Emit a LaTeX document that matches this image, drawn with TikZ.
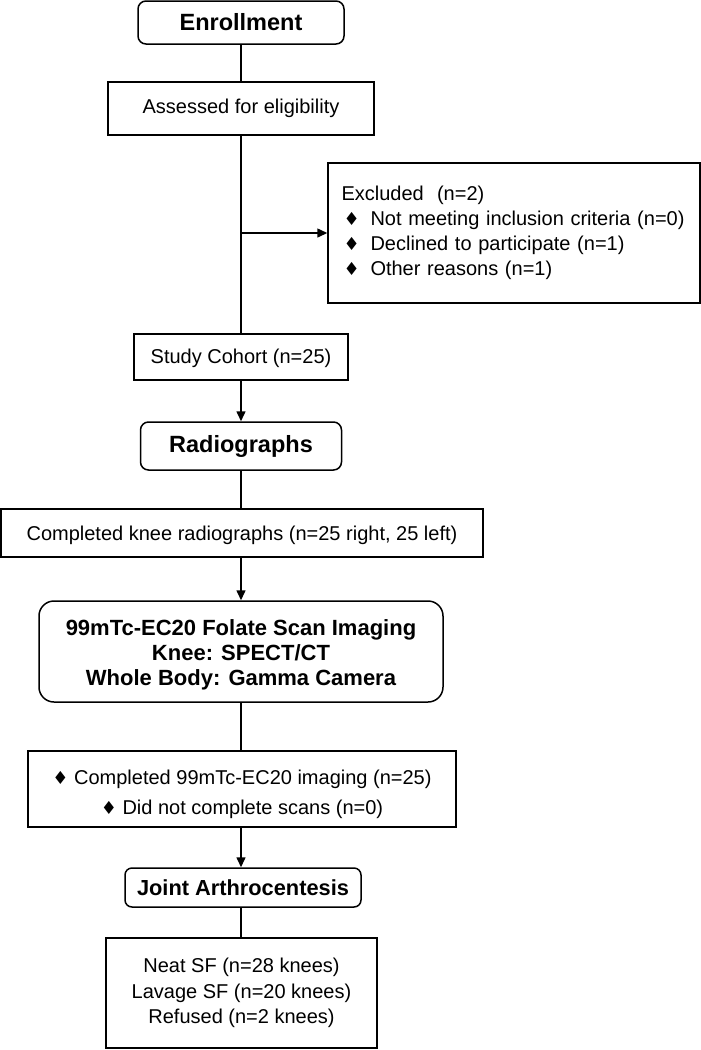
\documentclass[tikz,border=0pt]{standalone}
\usepackage{fontspec}
\setmainfont{Liberation Sans}
\newfontfamily\dejavu{DejaVu Sans}
\usetikzlibrary{arrows.meta}
\newcommand{\dia}{{\dejavu\fontsize{18}{18}\selectfont ♦}}
\begin{document}
\begin{tikzpicture}[x=1pt, y=-1pt, line width=1.5pt,
  box/.style={draw, inner sep=0pt, align=center, font=\fontsize{20}{25}\selectfont},
  head/.style={box, font=\fontsize{23.5}{25}\selectfont\bfseries},
  link/.style={line width=1.5pt},
  arr/.style={line width=1.5pt, -{Triangle[length=10pt,width=9pt]}}]
\useasboundingbox (0,0) rectangle (701,1050);
\node[head, rounded corners=8pt, minimum width=206pt, minimum height=43pt] (enr) at (241,22.5) {Enrollment};
\node[box, minimum width=266pt, minimum height=53pt] (ass) at (241,108.5) {Assessed for eligibility};
\node[box, align=left, minimum width=372pt, minimum height=140pt, text width=345pt] (exc) at (514,233)
 {Excluded\ \ (n=2)\\
  \makebox[29pt][l]{\hspace{2pt}\dia}Not meeting inclusion criteria (n=0)\\
  \makebox[29pt][l]{\hspace{2pt}\dia}Declined to participate (n=1)\\
  \makebox[29pt][l]{\hspace{2pt}\dia}Other reasons (n=1)\\[3pt]};
\node[box, minimum width=214pt, minimum height=46pt] (coh) at (241,357) {\rule{0pt}{18pt}Study Cohort (n=25)};
\node[head, rounded corners=8pt, minimum width=201pt, minimum height=48pt] (rad) at (241,446) {Radiographs};
\node[box, minimum width=482pt, minimum height=48pt] (knee) at (242,533) {\rule{0pt}{20pt}Completed knee radiographs (n=25 right, 25 left)};
\node[head, font=\fontsize{22}{25}\selectfont\bfseries, rounded corners=15pt, minimum width=404pt, minimum height=101pt] (fol) at (241,651.5)
 {\rule{0pt}{22pt}99mTc-EC20 Folate Scan Imaging\\Knee: SPECT/CT\\Whole Body: Gamma Camera};
\node[box, font=\fontsize{20}{30}\selectfont, minimum width=428pt, minimum height=76pt] (img) at (242,789)
 {\rule{0pt}{25pt}\dia\ Completed 99mTc-EC20 imaging (n=25)\\\dia\ Did not complete scans (n=0)};
\node[head, font=\fontsize{21.8}{25}\selectfont\bfseries, rounded corners=7pt, minimum width=236pt, minimum height=39pt] (joi) at (243,887.5) {Joint Arthrocentesis};
\node[box, font=\fontsize{20}{25.5}\selectfont, minimum width=271pt, minimum height=110pt] (sf) at (241.5,993)
 {Neat SF (n=28 knees)\\Lavage SF (n=20 knees)\\Refused (n=2 knees)};
\coordinate (sp) at (241,0);
\draw[link] (enr.south -| sp) -- (ass.north -| sp);
\draw[link] (ass.south -| sp) -- (coh.north -| sp);
\draw[arr] (exc.west -| sp) -- (exc.west);
\draw[arr] (coh.south -| sp) -- (rad.north -| sp);
\draw[link] (rad.south -| sp) -- (knee.north -| sp);
\draw[arr] (knee.south -| sp) -- (fol.north -| sp);
\draw[link] (fol.south -| sp) -- (img.north -| sp);
\draw[arr] (img.south -| sp) -- (joi.north -| sp);
\draw[link] (joi.south -| sp) -- (sf.north -| sp);
\end{tikzpicture}
\end{document}
